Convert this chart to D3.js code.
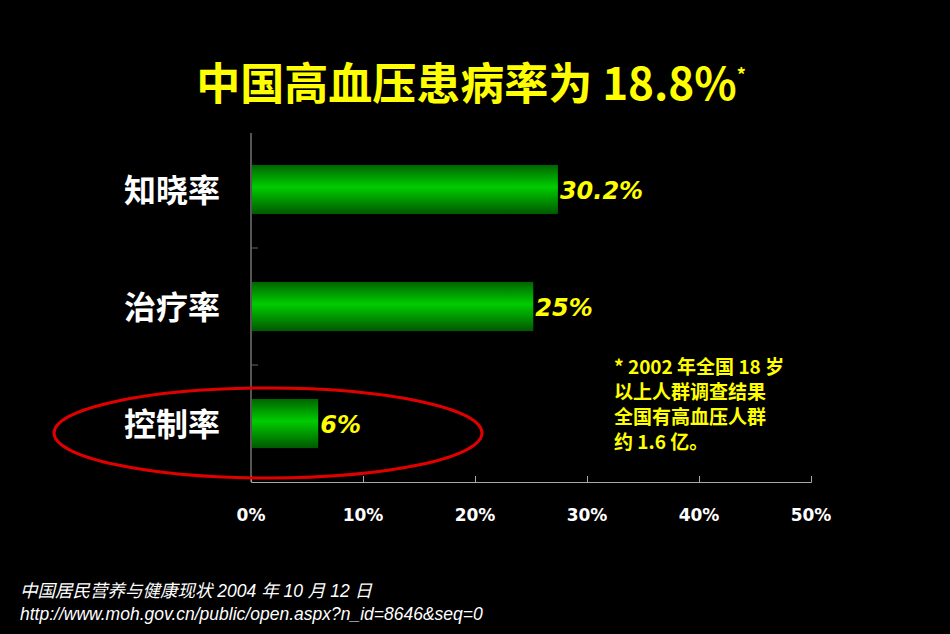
<!DOCTYPE html>
<html><head><meta charset="utf-8">
<script src="https://cdn.jsdelivr.net/npm/d3@7"></script>
<style>body{margin:0;background:#000;}svg{display:block;}</style>
</head><body>
<svg id="chart" width="950" height="634"></svg>
<script>
// categories, bar lengths as drawn, and printed labels
const categories = ["知晓率", "治疗率", "控制率"];
const barValues = [27.4, 25.2, 6.0];
const barLabels = ["30.2%", "25%", "6%"];
const tickValues = [0, 10, 20, 30, 40, 50];
const noteLines = ["* 2002 年全国 18 岁", "以上人群调查结果", "全国有高血压人群", "约 1.6 亿。"];
const sourceLines = ["中国居民营养与健康现状  2004 年 10 月 12 日", "http://www.moh.gov.cn/public/open.aspx?n_id=8646&seq=0"];

const svg = d3.select("#chart");
const cjk = "'Noto Sans CJK SC', 'DejaVu Sans', sans-serif";

const x = d3.scaleLinear().domain([0, 50]).range([251, 811]);
const y = d3.scaleBand().domain(categories).range([131, 482]).paddingInner(0.58).paddingOuter(0.29);

// gradient for bars
const grad = svg.append("defs").append("linearGradient")
    .attr("id", "g").attr("x1", 0).attr("y1", 0).attr("x2", 0).attr("y2", 1);
grad.append("stop").attr("offset", "0%").attr("stop-color", "#006400");
grad.append("stop").attr("offset", "45%").attr("stop-color", "#00cc00");
grad.append("stop").attr("offset", "100%").attr("stop-color", "#005800");

// title
svg.append("text")
    .attr("x", 471).attr("y", 100).attr("text-anchor", "middle")
    .attr("fill", "#ffff00").attr("font-family", cjk).attr("font-weight", "bold").attr("font-size", 44)
    .text("中国高血压患病率为 18.8%")
    .append("tspan").attr("dy", -18).attr("font-size", 18).text("*");

// x axis
const xAxis = d3.axisTop(x).tickValues(tickValues).tickSize(6).tickFormat("");
const gx = svg.append("g").attr("transform", "translate(0,482)").call(xAxis);
gx.selectAll("path,line").attr("stroke", "#aaa");
svg.selectAll(".xlab").data(tickValues).join("text")
    .attr("x", d => x(d)).attr("y", 521).attr("text-anchor", "middle")
    .attr("fill", "#fff").attr("font-family", "'DejaVu Sans', sans-serif").attr("font-weight", "bold").attr("font-size", 17)
    .text(d => d + "%");

// y axis line + small ticks between bands
svg.append("line").attr("x1", 251).attr("x2", 251).attr("y1", 133).attr("y2", 482).attr("stroke", "#aaa");
const yTicks = [1, 2].map(i => y(categories[i]) - y.step() * y.paddingInner() / 2);
svg.selectAll(".yt").data(yTicks).join("line")
    .attr("x1", 251).attr("x2", 258).attr("y1", d => d).attr("y2", d => d).attr("stroke", "#666");

// category labels
svg.selectAll(".cat").data(categories).join("text")
    .attr("x", 220).attr("y", d => y(d) + y.bandwidth() / 2 + 12).attr("text-anchor", "end")
    .attr("fill", "#fff").attr("font-family", cjk).attr("font-weight", "bold").attr("font-size", 32)
    .text(d => d);

// bars
svg.selectAll(".bar").data(barValues).join("rect")
    .attr("x", x(0) + 1).attr("y", (d, i) => y(categories[i]))
    .attr("width", d => x(d) - x(0) - 1).attr("height", y.bandwidth())
    .attr("fill", "url(#g)");

// value labels
svg.selectAll(".val").data(barValues).join("text")
    .attr("x", d => x(d) + 2).attr("y", (d, i) => y(categories[i]) + y.bandwidth() / 2 + 9)
    .attr("fill", "#ffff00").attr("font-family", "'DejaVu Sans', sans-serif").attr("font-weight", "bold")
    .attr("font-style", "italic").attr("font-size", 24)
    .text((d, i) => barLabels[i]);

// footnote block
svg.selectAll(".note").data(noteLines).join("text")
    .attr("x", 614).attr("y", (d, i) => 374 + i * 25)
    .attr("fill", "#ffff00").attr("font-family", cjk).attr("font-weight", "bold").attr("font-size", 19)
    .text(d => d);

// red ellipse
svg.append("ellipse").attr("cx", 268).attr("cy", 433).attr("rx", 214).attr("ry", 45)
    .attr("fill", "none").attr("stroke", "#e00000").attr("stroke-width", 3);

// source
svg.selectAll(".src").data(sourceLines).join("text")
    .attr("x", 20).attr("y", (d, i) => 597 + i * 23)
    .attr("fill", "#fff").attr("font-family", "'Liberation Sans', 'Noto Sans CJK SC', sans-serif")
    .attr("font-style", "italic").attr("font-size", 17.5)
    .text(d => d);
</script>
</body></html>
